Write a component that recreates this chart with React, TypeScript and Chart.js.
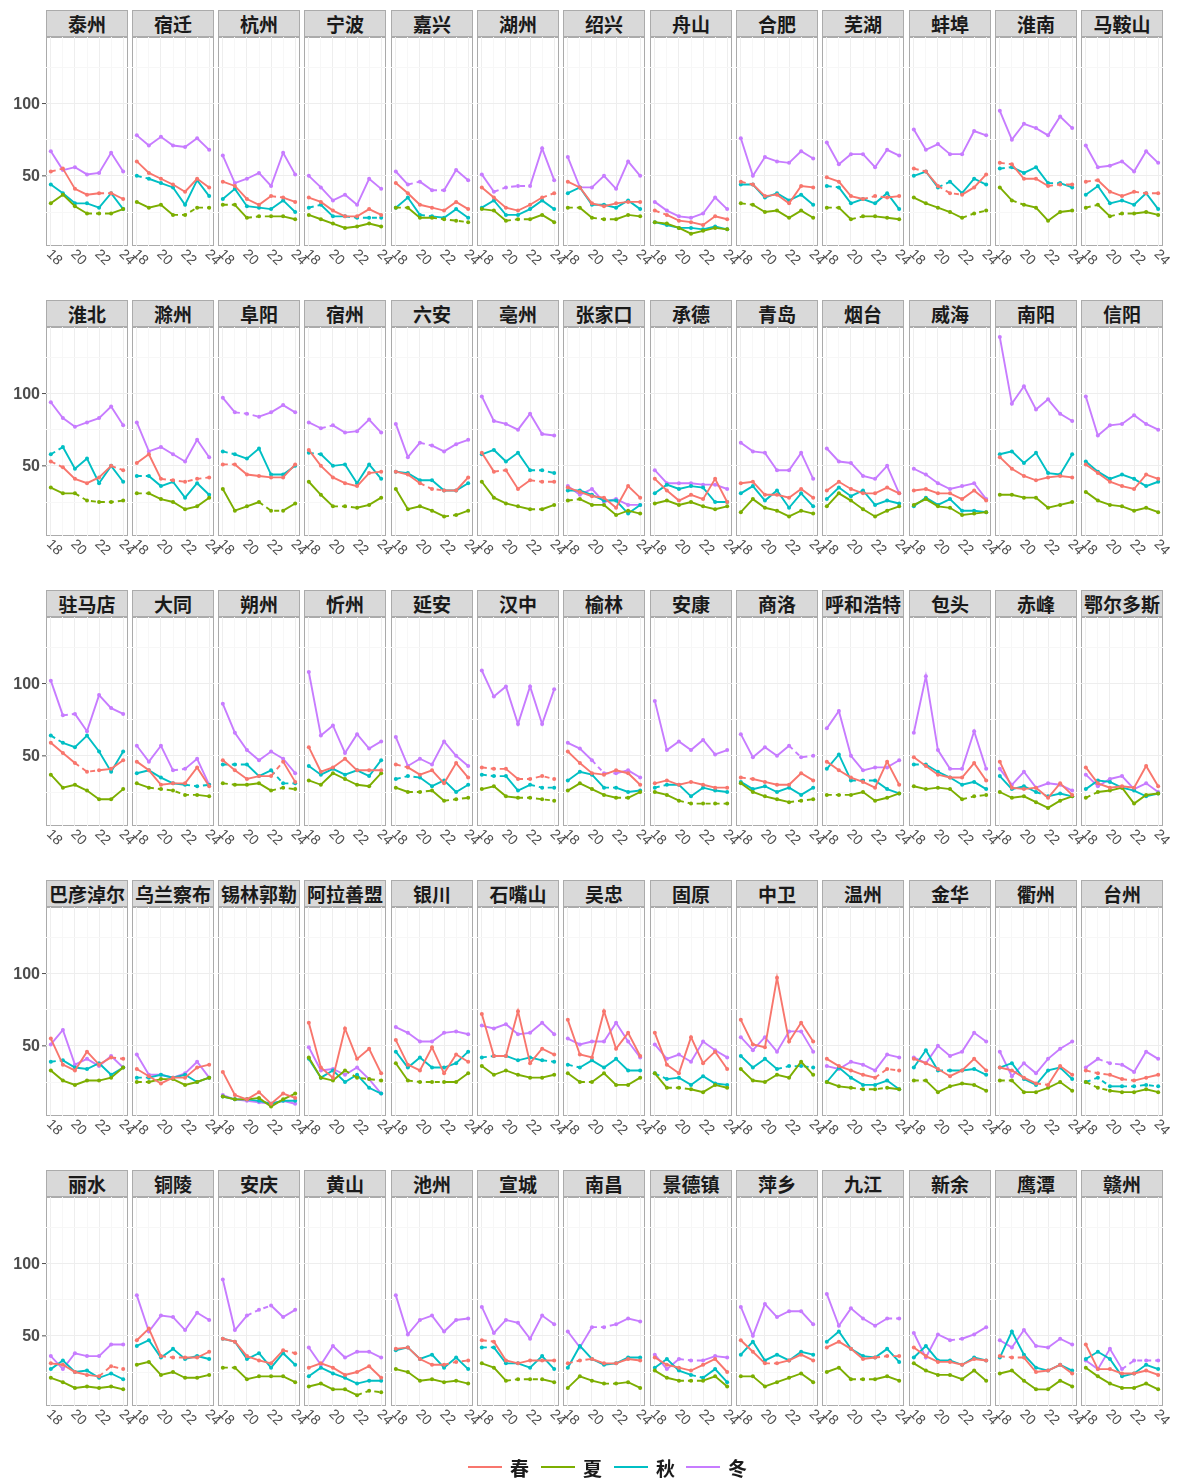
import React, { useEffect, useRef } from "react";
import { Chart, registerables } from "chart.js";
Chart.register(...registerables);

const years = [2018, 2019, 2020, 2021, 2022, 2023, 2024];
const xTickValues = [2018, 2020, 2022, 2024];
const xTickLabels = ["18", "20", "22", "24"];
const yTickLabels = [50, 100];
const seasons = ["春", "夏", "秋", "冬"];
const seasonColors = ["#F8766D", "#7CAE00", "#00BFC4", "#C77CFF"];

const cities = [
  "泰州", "宿迁", "杭州", "宁波", "嘉兴", "湖州", "绍兴", "舟山", "合肥", "芜湖", "蚌埠", "淮南", "马鞍山",
  "淮北", "滁州", "阜阳", "宿州", "六安", "亳州", "张家口", "承德", "青岛", "烟台", "威海", "南阳", "信阳",
  "驻马店", "大同", "朔州", "忻州", "延安", "汉中", "榆林", "安康", "商洛", "呼和浩特", "包头", "赤峰", "鄂尔多斯",
  "巴彦淖尔", "乌兰察布", "锡林郭勒", "阿拉善盟", "银川", "石嘴山", "吴忠", "固原", "中卫", "温州", "金华", "衢州", "台州",
  "丽水", "铜陵", "安庆", "黄山", "池州", "宣城", "南昌", "景德镇", "萍乡", "九江", "新余", "鹰潭", "赣州",
];

const spring = [
  [53, 55, 41, 37, 38, 38, 34], [60, 52, 48, 44, 39, 48, 42], [46, 43, 34, 30, 36, 35, 32], [35, 32, 26, 22, 22, 27, 23],
  [45, 38, 30, 28, 26, 32, 27], [42, 35, 28, 26, 30, 35, 38], [46, 42, 31, 29, 31, 32, 32], [26, 23, 19, 18, 16, 22, 20],
  [46, 44, 36, 37, 31, 43, 42], [49, 46, 36, 34, 36, 35, 36], [55, 53, 43, 38, 37, 42, 51], [59, 58, 48, 48, 43, 44, 44],
  [46, 47, 39, 36, 39, 38, 38],
  [53, 49, 41, 38, 42, 50, 47], [52, 58, 41, 40, 39, 41, 42], [51, 51, 44, 43, 42, 42, 51], [61, 50, 42, 38, 36, 45, 46],
  [46, 44, 38, 34, 33, 33, 42], [59, 46, 47, 34, 40, 39, 39], [35, 32, 29, 28, 21, 36, 28], [41, 33, 26, 30, 27, 41, 25],
  [38, 39, 30, 30, 28, 34, 28], [33, 39, 34, 31, 31, 35, 31], [33, 34, 31, 31, 27, 33, 26], [56, 48, 43, 40, 42, 43, 42],
  [51, 45, 39, 36, 34, 44, 41],
  [59, 52, 45, 39, 40, 41, 47], [46, 40, 30, 31, 31, 42, 29], [47, 40, 34, 36, 36, 46, 32], [56, 39, 42, 48, 40, 40, 40],
  [44, 42, 37, 40, 31, 45, 35], [42, 41, 41, 34, 34, 36, 34], [53, 45, 38, 37, 40, 38, 30], [31, 33, 30, 32, 30, 28, 28],
  [35, 34, 32, 30, 30, 38, 33], [46, 40, 35, 32, 28, 46, 30], [49, 43, 37, 35, 35, 45, 33], [46, 28, 27, 28, 21, 31, 23],
  [42, 31, 28, 29, 28, 43, 29],
  [55, 37, 33, 46, 37, 42, 41], [34, 29, 24, 28, 28, 35, 37], [32, 16, 13, 18, 10, 17, 14], [66, 35, 28, 62, 41, 48, 31],
  [54, 37, 33, 49, 31, 44, 39], [72, 43, 43, 74, 38, 48, 44], [68, 44, 42, 74, 48, 59, 43], [59, 37, 31, 56, 38, 46, 34],
  [68, 51, 49, 97, 53, 66, 53], [41, 36, 33, 30, 28, 34, 33], [41, 38, 34, 29, 33, 41, 33], [35, 33, 28, 24, 23, 36, 30],
  [33, 31, 30, 27, 26, 28, 30],
  [31, 30, 25, 23, 22, 29, 27], [47, 55, 36, 35, 35, 35, 39], [48, 46, 36, 33, 31, 40, 38], [28, 31, 28, 23, 25, 29, 21],
  [41, 42, 34, 30, 30, 32, 33], [47, 46, 33, 31, 33, 33, 33], [31, 33, 34, 31, 31, 34, 33], [35, 30, 28, 26, 30, 34, 25],
  [47, 39, 31, 31, 33, 37, 33], [42, 46, 41, 34, 35, 36, 36], [42, 36, 32, 32, 30, 34, 33], [36, 35, 35, 25, 26, 30, 24],
  [44, 27, 27, 24, 24, 26, 23],
];

const summer = [
  [31, 37, 29, 24, 24, 24, 27], [32, 28, 30, 23, 23, 28, 28], [30, 30, 21, 22, 22, 22, 20], [23, 20, 17, 14, 15, 17, 15],
  [28, 28, 21, 21, 20, 19, 18], [27, 26, 19, 20, 20, 23, 18], [28, 28, 21, 20, 20, 23, 22], [18, 17, 14, 10, 12, 14, 13],
  [31, 30, 25, 26, 21, 26, 21], [28, 28, 20, 22, 22, 21, 20], [35, 31, 28, 25, 21, 24, 26], [42, 33, 30, 28, 19, 25, 26],
  [28, 30, 22, 24, 24, 25, 23],
  [35, 31, 31, 26, 25, 25, 26], [31, 31, 27, 25, 20, 22, 28], [34, 19, 22, 25, 19, 19, 24], [39, 30, 22, 22, 21, 23, 28],
  [34, 20, 22, 19, 15, 16, 19], [39, 28, 24, 22, 20, 20, 23], [26, 27, 23, 23, 16, 19, 17], [24, 26, 23, 25, 22, 20, 22],
  [18, 27, 21, 19, 15, 19, 17], [22, 31, 26, 20, 15, 19, 22], [23, 27, 22, 21, 16, 17, 18], [30, 30, 28, 28, 21, 23, 25],
  [32, 26, 23, 22, 19, 21, 18],
  [37, 28, 30, 26, 20, 20, 27], [31, 28, 27, 26, 23, 23, 22], [31, 30, 30, 31, 26, 28, 27], [33, 30, 38, 34, 30, 29, 38],
  [28, 25, 25, 26, 19, 20, 21], [27, 29, 22, 21, 21, 20, 19], [26, 31, 27, 23, 21, 21, 25], [25, 23, 19, 17, 17, 17, 17],
  [31, 25, 22, 20, 18, 19, 20], [23, 23, 23, 25, 19, 21, 24], [29, 27, 28, 27, 20, 22, 23], [25, 21, 22, 18, 14, 19, 22],
  [21, 25, 26, 28, 17, 23, 24],
  [33, 26, 23, 26, 26, 28, 35], [25, 25, 27, 27, 23, 25, 28], [15, 13, 13, 14, 8, 13, 17], [42, 28, 26, 33, 28, 27, 26],
  [38, 26, 25, 25, 25, 25, 31], [36, 30, 33, 30, 28, 28, 30], [31, 25, 25, 31, 23, 23, 28], [31, 21, 21, 20, 18, 23, 21],
  [34, 26, 25, 30, 28, 39, 30], [25, 22, 21, 20, 20, 21, 20], [26, 26, 18, 22, 24, 23, 19], [26, 26, 18, 18, 21, 25, 19],
  [25, 21, 19, 18, 18, 20, 18],
  [21, 18, 14, 15, 14, 15, 13], [30, 32, 23, 25, 21, 21, 23], [28, 28, 20, 22, 22, 22, 18], [15, 17, 13, 13, 9, 12, 11],
  [27, 25, 19, 20, 18, 19, 17], [31, 28, 19, 20, 20, 20, 18], [14, 22, 19, 17, 17, 18, 14], [26, 21, 19, 19, 19, 22, 15],
  [22, 22, 15, 18, 21, 24, 18], [25, 28, 20, 20, 20, 22, 19], [31, 26, 23, 23, 20, 26, 19], [24, 26, 19, 13, 13, 19, 15],
  [28, 22, 17, 14, 14, 17, 13],
];

const autumn = [
  [44, 38, 31, 31, 28, 38, 27], [50, 48, 45, 42, 30, 47, 36], [34, 41, 29, 28, 27, 33, 25], [28, 30, 22, 22, 21, 21, 21],
  [28, 35, 23, 22, 21, 27, 21], [28, 33, 23, 23, 27, 33, 27], [38, 42, 30, 30, 28, 33, 27], [18, 16, 14, 14, 13, 15, 13],
  [44, 44, 35, 38, 33, 37, 30], [43, 42, 31, 34, 31, 38, 27], [50, 53, 42, 46, 38, 48, 44], [55, 56, 52, 56, 45, 45, 42],
  [37, 43, 31, 33, 30, 38, 27],
  [58, 63, 48, 55, 38, 50, 39], [43, 43, 36, 39, 28, 38, 30], [60, 58, 55, 62, 44, 44, 50], [59, 58, 50, 51, 38, 51, 41],
  [46, 45, 40, 40, 33, 33, 38], [58, 61, 53, 59, 47, 47, 45], [33, 33, 30, 26, 26, 17, 23], [31, 37, 34, 36, 35, 25, 25],
  [31, 36, 26, 33, 21, 31, 22], [27, 35, 29, 33, 23, 26, 24], [22, 28, 23, 27, 19, 19, 18], [58, 60, 52, 59, 45, 44, 58],
  [53, 46, 41, 44, 41, 36, 39],
  [64, 59, 56, 64, 53, 39, 53], [38, 40, 35, 31, 30, 29, 30], [44, 44, 44, 36, 40, 31, 31], [43, 37, 41, 37, 40, 36, 47],
  [34, 36, 35, 29, 33, 25, 30], [37, 36, 36, 26, 30, 28, 28], [33, 39, 37, 28, 28, 25, 26], [28, 30, 30, 22, 28, 26, 25],
  [32, 27, 29, 25, 28, 23, 28], [41, 51, 33, 33, 33, 27, 24], [44, 44, 39, 35, 30, 32, 27], [36, 27, 29, 25, 22, 24, 22],
  [27, 33, 32, 28, 26, 22, 24],
  [39, 40, 35, 34, 38, 30, 35], [28, 28, 30, 28, 30, 25, 28], [15, 13, 13, 12, 10, 12, 12], [41, 28, 33, 25, 30, 21, 17],
  [46, 35, 42, 35, 35, 38, 46], [42, 43, 43, 40, 42, 40, 39], [37, 35, 40, 35, 41, 33, 33], [31, 27, 28, 23, 29, 24, 23],
  [43, 35, 41, 34, 36, 36, 35], [25, 35, 28, 23, 23, 26, 20], [35, 47, 33, 33, 33, 34, 30], [35, 38, 27, 23, 33, 35, 27],
  [25, 28, 22, 22, 22, 23, 22],
  [27, 33, 25, 26, 21, 24, 20], [43, 47, 35, 41, 34, 36, 34], [48, 46, 34, 38, 28, 38, 30], [22, 28, 24, 21, 17, 19, 19],
  [40, 42, 34, 37, 28, 35, 27], [42, 42, 31, 31, 28, 36, 27], [28, 43, 34, 30, 31, 35, 35], [28, 34, 26, 23, 21, 27, 18],
  [37, 46, 33, 37, 33, 39, 37], [46, 53, 41, 36, 35, 41, 32], [35, 43, 33, 33, 30, 35, 33], [35, 53, 37, 28, 26, 30, 26],
  [34, 39, 34, 22, 24, 30, 27],
];

const winter = [
  [67, 54, 56, 51, 52, 66, 53], [78, 71, 77, 71, 70, 76, 68], [64, 45, 48, 52, 43, 66, 51], [50, 42, 33, 37, 30, 48, 41],
  [53, 44, 46, 40, 40, 54, 47], [51, 39, 42, 43, 43, 69, 47], [63, 42, 42, 50, 41, 60, 50], [32, 26, 22, 21, 24, 35, 27],
  [76, 50, 63, 60, 59, 67, 62], [73, 58, 65, 65, 56, 68, 64], [82, 68, 72, 65, 65, 81, 78], [95, 75, 86, 83, 78, 91, 83],
  [71, 56, 57, 60, 53, 67, 59],
  [94, 83, 77, 80, 83, 91, 78], [80, 60, 63, 58, 53, 68, 56], [97, 87, 86, 84, 87, 92, 87], [80, 76, 78, 73, 74, 82, 73],
  [79, 56, 66, 64, 60, 65, 68], [98, 81, 79, 75, 86, 72, 71], [36, 30, 34, 25, 27, 23, 23], [47, 38, 38, 38, 37, 37, 34],
  [66, 60, 59, 47, 47, 59, 41], [62, 53, 52, 43, 41, 50, 31], [48, 44, 38, 34, 36, 38, 27], [139, 93, 105, 89, 96, 86, 81],
  [98, 71, 78, 79, 85, 79, 75],
  [102, 78, 79, 67, 92, 83, 79], [57, 46, 57, 40, 41, 48, 30], [86, 66, 54, 47, 53, 48, 38], [108, 64, 71, 52, 65, 55, 60],
  [63, 43, 48, 44, 60, 50, 43], [109, 91, 98, 72, 98, 72, 96], [59, 55, 47, 38, 38, 40, 35], [88, 54, 60, 54, 61, 51, 54],
  [65, 49, 56, 50, 57, 49, 50], [69, 81, 50, 40, 42, 42, 47], [66, 105, 54, 41, 41, 67, 41], [41, 30, 39, 28, 31, 30, 26],
  [37, 29, 34, 36, 27, 31, 25],
  [51, 61, 37, 41, 36, 43, 35], [44, 30, 30, 28, 31, 39, 28], [16, 13, 12, 11, 10, 12, 10], [49, 33, 34, 30, 35, 27, 17],
  [63, 59, 53, 53, 59, 60, 58], [64, 62, 65, 58, 59, 66, 58], [55, 51, 53, 53, 66, 53, 42], [51, 41, 44, 39, 53, 47, 42],
  [56, 47, 56, 46, 60, 60, 46], [36, 34, 39, 37, 33, 44, 42], [42, 38, 50, 43, 46, 59, 53], [46, 29, 38, 31, 41, 48, 53],
  [35, 41, 38, 37, 32, 46, 41],
  [36, 27, 38, 36, 36, 44, 44], [78, 53, 64, 63, 54, 66, 61], [89, 54, 64, 68, 71, 63, 68], [42, 30, 43, 35, 39, 39, 35],
  [78, 51, 61, 64, 53, 61, 62], [70, 52, 61, 59, 48, 64, 58], [53, 42, 56, 56, 58, 62, 60], [37, 27, 34, 33, 33, 36, 35],
  [70, 50, 72, 63, 67, 67, 58], [79, 57, 69, 62, 57, 62, 62], [52, 35, 51, 47, 48, 51, 56], [47, 42, 54, 43, 42, 48, 44],
  [33, 27, 41, 27, 33, 33, 33],
];

// Segments drawn dashed (one flag per year-to-year segment, 18→19 … 23→24)
const springDash: Record<string, string> = {
  泰州: "100010", 杭州: "000010", 湖州: "000001", 舟山: "100000", 合肥: "100000", 芜湖: "000110", 蚌埠: "101100",
  淮南: "100011", 马鞍山: "100011", 淮北: "100001", 滁州: "001111", 阜阳: "100000", 六安: "001100", 亳州: "010011",
  驻马店: "001100", 朔州: "000010", 延安: "100000", 汉中: "110111", 商洛: "100000", 巴彦淖尔: "000001",
  温州: "000011", 衢州: "000100", 台州: "110100", 丽水: "000011", 铜陵: "001100", 安庆: "000001", 池州: "000011",
  宣城: "100000", 南昌: "110000", 萍乡: "001000", 九江: "000011", 鹰潭: "110000",
};
const summerDash: Record<string, string> = {
  泰州: "000110", 宿迁: "000111", 杭州: "101100", 嘉兴: "100111", 湖州: "001100", 绍兴: "101100", 合肥: "100000",
  芜湖: "101000", 蚌埠: "000011", 淮南: "010000", 马鞍山: "101100", 淮北: "001111", 滁州: "100000", 阜阳: "000110",
  宿州: "001100", 六安: "000010", 亳州: "000010", 张家口: "100000", 大同: "011110", 朔州: "100011", 延安: "011011",
  汉中: "000111", 榆林: "000010", 安康: "001111", 商洛: "000011", 呼和浩特: "110000", 包头: "000011", 鄂尔多斯: "100000",
  乌兰察布: "100000", 阿拉善盟: "000111", 银川: "011100", 吴忠: "010000", 固原: "011000", 温州: "001110",
  金华: "100000", 衢州: "100000", 台州: "110000", 安庆: "100000", 黄山: "000011", 宣城: "001110", 南昌: "000100",
  景德镇: "001100", 九江: "001100",
};
const autumnDash: Record<string, string> = {
  宿迁: "100000", 宁波: "100111", 嘉兴: "001000", 芜湖: "100000", 蚌埠: "001000", 淮南: "100010", 淮北: "100000",
  滁州: "100000", 阜阳: "100000", 宿州: "100000", 亳州: "000011", 驻马店: "100000", 大同: "000011", 朔州: "110011",
  延安: "110000", 汉中: "110011", 榆林: "000100", 安康: "100000", 呼和浩特: "001100", 包头: "100000", 赤峰: "000100",
  巴彦淖尔: "100000", 乌兰察布: "100000", 石嘴山: "110001", 吴忠: "100000", 固原: "100000", 中卫: "000111",
  金华: "001000", 台州: "110111", 宣城: "100000", 景德镇: "000100",
};
const winterDash: Record<string, string> = {
  嘉兴: "010100", 湖州: "011100", 阜阳: "011000", 宿州: "010000", 六安: "001000", 驻马店: "010000", 大同: "000100",
  榆林: "001100", 商洛: "000011", 台州: "011000", 安庆: "001100", 南昌: "001100", 景德镇: "001100", 九江: "000001",
  新余: "000100", 赣州: "000111",
};

const seriesList = [spring, summer, autumn, winter];
const dashList = [springDash, summerDash, autumnDash, winterDash];

const NCOL = 13;
const COL_LEFT0 = 45.5;
const COL_PITCH = 86.3;
const PANEL_W = 82;
const ROW_TOP0 = 10;
const ROW_PITCH = 290;
const STRIP_H = 27;
const PLOT_H = 209;
const RIGHT_PAD = 24;
const BOTTOM_PAD = 30;
const Y_MIN = 1.5;
const Y_MAX = 146;
const X_MIN = 2017.6;
const X_MAX = 2024.4;
const BORDER = "#ababab";

const axisTextPlugin = {
  id: "axisText",
  afterDraw(chart: any) {
    const ctx = chart.ctx;
    const xs = chart.scales.x;
    const ys = chart.scales.y;
    const area = chart.chartArea;
    ctx.save();
    ctx.font = '14px "Liberation Sans", Arial, sans-serif';
    ctx.fillStyle = "#4d4d4d";
    ctx.textAlign = "left";
    ctx.textBaseline = "middle";
    xTickValues.forEach((v, i) => {
      const x = xs.getPixelForValue(v);
      ctx.save();
      ctx.translate(x - 2, area.bottom + 6);
      ctx.rotate(Math.PI / 4);
      ctx.fillText(xTickLabels[i], 0, 0);
      ctx.restore();
    });
    if (chart.options.plugins.axisText && chart.options.plugins.axisText.showY) {
      ctx.font = 'bold 16px "Liberation Sans", Arial, sans-serif';
      ctx.fillStyle = "#4d4d4d";
      ctx.textAlign = "right";
      ctx.strokeStyle = "#4d4d4d";
      ctx.lineWidth = 1;
      yTickLabels.forEach((v) => {
        const y = ys.getPixelForValue(v);
        ctx.fillText(String(v), area.left - 6, y + 1);
        ctx.beginPath();
        ctx.moveTo(area.left - 4, y);
        ctx.lineTo(area.left, y);
        ctx.stroke();
      });
    }
    ctx.restore();
  },
};

function Panel({ idx }: { idx: number }) {
  const ref = useRef<HTMLCanvasElement>(null);
  const col = idx % NCOL;
  const row = Math.floor(idx / NCOL);
  const panelLeft = Math.round(COL_LEFT0 + COL_PITCH * col);
  const rowTop = ROW_TOP0 + ROW_PITCH * row;
  const first = col === 0;
  const canvasLeft = first ? 0 : panelLeft;
  const leftAxis = first ? panelLeft : 0;
  const cw = leftAxis + PANEL_W + RIGHT_PAD;
  const ch = PLOT_H + BOTTOM_PAD;

  useEffect(() => {
    if (!ref.current) return;
    const chart = new Chart(ref.current, {
      type: "line",
      data: {
        datasets: seriesList.map((s, k) => {
          const flags = dashList[k][cities[idx]] || "000000";
          return {
            label: seasons[k],
            data: years.map((y, i) => ({ x: y, y: s[idx][i] })),
            borderColor: seasonColors[k],
            backgroundColor: seasonColors[k],
            borderWidth: 1.9,
            pointRadius: 2,
            pointBorderWidth: 0,
            tension: 0,
            segment: {
              borderDash: (c: any) => (flags[c.p0DataIndex] === "1" ? [5, 4] : undefined),
            },
          };
        }),
      },
      options: {
        animation: false,
        responsive: false,
        maintainAspectRatio: false,
        events: [],
        layout: { padding: { left: leftAxis, top: 0, right: RIGHT_PAD, bottom: BOTTOM_PAD }, autoPadding: false },
        plugins: {
          legend: { display: false },
          tooltip: { enabled: false },
          title: { display: false },
          axisText: { showY: first },
        },
        scales: {
          x: {
            type: "linear",
            min: X_MIN,
            max: X_MAX,
            afterBuildTicks: (s: any) => {
              s.ticks = years.map((v) => ({ value: v }));
            },
            afterFit: (s: any) => {
              s.height = 0;
            },
            ticks: { display: false },
            grid: {
              drawTicks: false,
              color: (c: any) => (c.tick && xTickValues.includes(c.tick.value) ? "#eeeeee" : "#f7f7f7"),
              lineWidth: 1,
            },
            border: { display: false },
          },
          y: {
            type: "linear",
            min: Y_MIN,
            max: Y_MAX,
            afterBuildTicks: (s: any) => {
              s.ticks = [25, 50, 75, 100, 125].map((v) => ({ value: v }));
            },
            afterFit: (s: any) => {
              s.width = 0;
            },
            ticks: { display: false },
            grid: {
              drawTicks: false,
              color: (c: any) => (c.tick && yTickLabels.includes(c.tick.value) ? "#eeeeee" : "#f7f7f7"),
              lineWidth: 1,
            },
            border: { display: false },
          },
        },
      } as any,
      plugins: [axisTextPlugin],
    });
    return () => chart.destroy();
  }, [idx]);

  return (
    <>
      <div
        style={{
          position: "absolute",
          left: panelLeft,
          top: rowTop,
          width: PANEL_W,
          height: STRIP_H,
          boxSizing: "border-box",
          background: "#d9d9d9",
          border: `1px solid ${BORDER}`,
          display: "flex",
          alignItems: "center",
          justifyContent: "center",
          fontFamily: '"Noto Sans CJK SC", sans-serif',
          fontWeight: 700,
          fontSize: 19,
          color: "#1a1a1a",
          whiteSpace: "nowrap",
          overflow: "visible",
          lineHeight: 1,
        }}
      >
        {cities[idx]}
      </div>
      <div
        style={{
          position: "absolute",
          left: panelLeft,
          top: rowTop + STRIP_H,
          width: PANEL_W,
          height: PLOT_H,
          boxSizing: "border-box",
          border: `1px solid ${BORDER}`,
          background: "#ffffff",
        }}
      />
      <canvas
        ref={ref}
        width={cw}
        height={ch}
        style={{ position: "absolute", left: canvasLeft, top: rowTop + STRIP_H, width: cw, height: ch }}
      />
    </>
  );
}

const legendLefts = [468, 541, 614, 686];

export default function App() {
  return (
    <div
      style={{
        position: "absolute",
        left: 0,
        top: 0,
        width: 1177,
        height: 1481,
        background: "#ffffff",
        overflow: "hidden",
      }}
    >
      {cities.map((_, i) => (
        <Panel key={i} idx={i} />
      ))}
      {seasons.map((s, k) => (
        <div
          key={s}
          style={{
            position: "absolute",
            left: legendLefts[k],
            top: 1455,
            height: 24,
            display: "flex",
            alignItems: "center",
            fontFamily: '"Noto Sans CJK SC", sans-serif',
            fontWeight: 700,
            fontSize: 19,
            color: "#1a1a1a",
          }}
        >
          <span style={{ display: "inline-block", width: 34, height: 2, background: seasonColors[k], marginRight: 8 }} />
          <span>{s}</span>
        </div>
      ))}
    </div>
  );
}
